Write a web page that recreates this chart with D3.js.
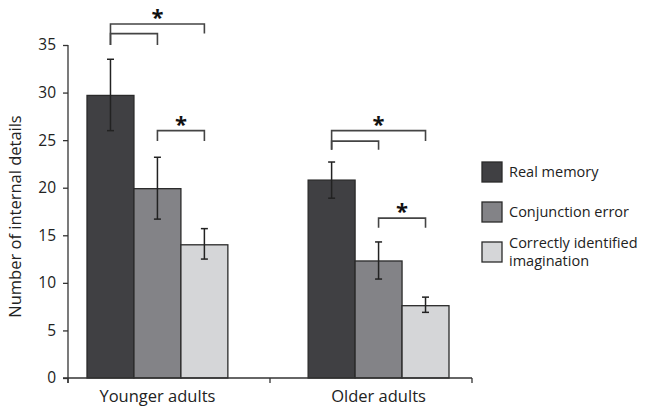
<!DOCTYPE html>
<html>
<head>
<meta charset="utf-8">
<script src="https://cdn.jsdelivr.net/npm/d3@7/dist/d3.min.js"></script>
<style>
  html, body { margin: 0; padding: 0; background: #fff; }
  svg { display: block; font-family: "Open Sans", "Noto Sans", sans-serif; }
</style>
</head>
<body>
<svg id="chart" width="645" height="412"></svg>
<script>
// ---- data ----
const groups = ["Younger adults", "Older adults"];
const series = ["Real memory", "Conjunction error", "Correctly identified imagination"];
const seriesLines = [["Real memory"], ["Conjunction error"], ["Correctly identified", "imagination"]];
const colors = ["#404043", "#838387", "#d5d6d8"];
const youngerMeans = [29.7, 19.9, 14.0];
const youngerErrLow = [26.0, 16.7, 12.5];
const youngerErrHigh = [33.5, 23.2, 15.7];
const olderMeans = [20.8, 12.3, 7.6];
const olderErrLow = [18.9, 10.4, 6.9];
const olderErrHigh = [22.7, 14.3, 8.5];
const yTicks = [0, 5, 10, 15, 20, 25, 30, 35];
// significance brackets: group, from series, to series, bar level, left leg end, right leg end
const brackets = [
  { g: 0, a: 0, b: 2, y: 37.2, yl: 35.0, yr: 36.2 },
  { g: 0, a: 0, b: 1, y: 36.2, yl: 35.0, yr: 35.0 },
  { g: 0, a: 1, b: 2, y: 26.0, yl: 24.9, yr: 24.9 },
  { g: 1, a: 0, b: 2, y: 26.0, yl: 24.0, yr: 24.9 },
  { g: 1, a: 0, b: 1, y: 24.9, yl: 24.0, yr: 24.0 },
  { g: 1, a: 1, b: 2, y: 16.8, yl: 15.8, yr: 15.8 }
];
// stars: group, position between series (fractional index), level
const stars = [
  { g: 0, s: 1, y: 37.2 },
  { g: 0, s: 1.5, y: 26.0 },
  { g: 1, s: 1, y: 26.0 },
  { g: 1, s: 1.5, y: 16.8 }
];

const means = [youngerMeans, olderMeans];
const errLow = [youngerErrLow, olderErrLow];
const errHigh = [youngerErrHigh, olderErrHigh];

// ---- layout ----
const svg = d3.select("#chart");
const axisColor = "#333";
const y = d3.scaleLinear().domain([0, 35]).range([378, 45]);
const xGroup = d3.scaleBand().domain(groups).range([87, 449]).paddingInner(0.363).paddingOuter(0);
const xSeries = d3.scaleBand().domain(d3.range(series.length)).range([0, xGroup.bandwidth()]).padding(0);
const xAxisBand = d3.scaleBand().domain(groups).range([68, 472]).padding(0);

const seriesCenter = (g, s) => xGroup(groups[g]) + xSeries.bandwidth() * (s + 0.5);

// y axis
const yAxis = d3.axisLeft(y).tickValues(yTicks).tickSize(5).tickPadding(7);
const yg = svg.append("g").attr("transform", "translate(68,0)").call(yAxis);
yg.select(".domain").remove();
yg.selectAll(".tick line").attr("stroke", axisColor).attr("stroke-width", 1.3);
yg.selectAll(".tick text").attr("fill", "#222").style("font-size", "15.5px").style("font-family", "'Open Sans', sans-serif");
svg.append("line").attr("x1", 68).attr("x2", 68).attr("y1", y(35)).attr("y2", y(0) + 5)
  .attr("stroke", axisColor).attr("stroke-width", 1.3);

// y title
svg.append("text")
  .attr("transform", `translate(21,${(y(35) + y(0)) / 2 + 5}) rotate(-90)`)
  .attr("text-anchor", "middle")
  .attr("fill", "#222")
  .style("font-size", "16.5px")
  .text("Number of internal details");

// bars
groups.forEach((gName, gi) => {
  const gg = svg.append("g").attr("transform", `translate(${xGroup(gName)},0)`);
  gg.selectAll("rect").data(means[gi]).join("rect")
    .attr("x", (d, i) => xSeries(i))
    .attr("y", d => y(d))
    .attr("width", xSeries.bandwidth())
    .attr("height", d => y(0) - y(d))
    .attr("fill", (d, i) => colors[i])
    .attr("stroke", "#2a2a2a")
    .attr("stroke-width", 1.3);
  // error bars
  means[gi].forEach((m, si) => {
    const cx = xSeries(si) + xSeries.bandwidth() / 2;
    const lo = y(errLow[gi][si]), hi = y(errHigh[gi][si]);
    gg.append("line").attr("x1", cx).attr("x2", cx).attr("y1", lo).attr("y2", hi)
      .attr("stroke", "#222").attr("stroke-width", 1.5);
    [lo, hi].forEach(v => gg.append("line").attr("x1", cx - 3.5).attr("x2", cx + 3.5).attr("y1", v).attr("y2", v)
      .attr("stroke", "#222").attr("stroke-width", 1.5));
  });
});

// x axis
svg.append("line").attr("x1", 63).attr("x2", 472).attr("y1", y(0)).attr("y2", y(0))
  .attr("stroke", axisColor).attr("stroke-width", 1.3);
const xEdges = [xAxisBand.range()[0], ...groups.map(g => xAxisBand(g) + xAxisBand.bandwidth())];
svg.selectAll(".xtick").data(xEdges).join("line").attr("class", "xtick")
  .attr("x1", d => d).attr("x2", d => d).attr("y1", y(0)).attr("y2", y(0) + 5)
  .attr("stroke", axisColor).attr("stroke-width", 1.3);
svg.selectAll(".xlabel").data(groups).join("text").attr("class", "xlabel")
  .attr("x", d => xGroup(d) + xGroup.bandwidth() / 2 + 0)
  .attr("y", 402)
  .attr("text-anchor", "middle")
  .attr("fill", "#222")
  .style("font-size", "16.5px")
  .text(d => d);

// brackets
const bline = d3.line();
brackets.forEach(b => {
  const x1 = seriesCenter(b.g, b.a), x2 = seriesCenter(b.g, b.b);
  svg.append("path")
    .attr("d", bline([[x1, y(b.yl)], [x1, y(b.y)], [x2, y(b.y)], [x2, y(b.yr)]]))
    .attr("fill", "none").attr("stroke", "#444").attr("stroke-width", 1.6);
});
stars.forEach(s => {
  const cx = xGroup(groups[s.g]) + xSeries.bandwidth() * (s.s + 0.5);
  svg.append("text")
    .attr("x", cx).attr("y", y(s.y) + 1)
    .attr("text-anchor", "middle")
    .attr("fill", "#111")
    .style("font-size", "22px")
    .style("font-weight", "bold")
    .text("*");
});

// legend
const legendY = [162, 202, 242];
series.forEach((s, i) => {
  svg.append("rect").attr("x", 482).attr("y", legendY[i]).attr("width", 20).attr("height", 20)
    .attr("fill", colors[i]).attr("stroke", "#2a2a2a").attr("stroke-width", 1.3);
  const lines = seriesLines[i];
  const t = svg.append("text").attr("fill", "#222").style("font-size", "14.5px");
  if (lines.length === 1) {
    t.append("tspan").attr("x", 509).attr("y", legendY[i] + 15).text(lines[0]);
  } else {
    lines.forEach((l, li) => t.append("tspan").attr("x", 509).attr("y", legendY[i] + 6 + li * 18).text(l));
  }
});
</script>
</body>
</html>
